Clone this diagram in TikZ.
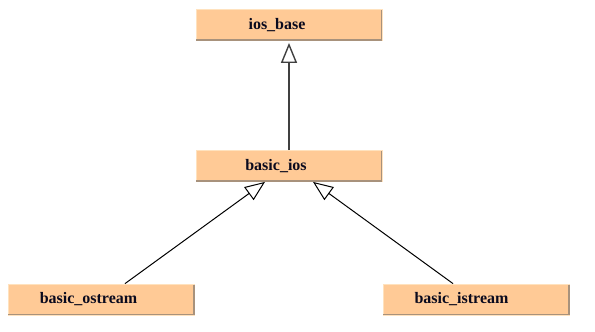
\documentclass[tikz,border=0pt]{standalone}
\usepackage{fontspec}
\setmainfont{Liberation Serif}
\usetikzlibrary{arrows.meta,calc}
\definecolor{boxfill}{HTML}{FFCA96}
\definecolor{boxlight}{HTML}{FFE2BE}
\definecolor{boxshade}{HTML}{A8927C}
\definecolor{labeltext}{HTML}{0A0A1E}
\definecolor{stem}{HTML}{404040}
\tikzset{
  cls/.style={rectangle, fill=boxfill, draw=boxlight, line width=0.8pt,
    minimum width=186pt, minimum height=31pt, inner sep=0pt,
    font=\bfseries\fontsize{16}{16}\selectfont, text=labeltext},
  shade edge/.style={draw=boxshade, line width=1.6pt},
  inherit/.style={draw=black, line width=1pt,
    -{Triangle[open, length=20pt, width=16pt, fill=white]}},
}
\begin{document}
\begin{tikzpicture}[x=1pt, y=-1pt]
  \useasboundingbox (0,0) rectangle (595,332);
  % class boxes
  \node[cls] (iosbase) at (289,25)    {\hspace*{-24pt}ios\_base};
  \node[cls] (basicios) at (289,166)  {\hspace*{-26pt}basic\_ios};
  \node[cls] (ostream) at (101.5,299.5) {\hspace*{-26pt}basic\_ostream};
  \node[cls] (istream) at (476.5,299.5) {\hspace*{-30pt}basic\_istream};
  % darker right and bottom edges
  \foreach \n in {iosbase,basicios,ostream,istream}{
    \draw[shade edge] ($(\n.north east)+(-0.8,1)$) -- ($(\n.south east)+(-0.8,-0.8)$) -- ($(\n.south west)+(0,-0.8)$);
  }
  % inheritance arrows
  \draw[inherit, draw=stem, line width=1.4pt] (basicios.north) -- ($(iosbase.south)+(0,2)$);
  \draw[inherit] ($(ostream.north)+(23.5,0)$) -- ($(basicios.south)+(-24,0)$);
  \draw[inherit] ($(istream.north)+(-23.5,0)$) -- ($(basicios.south)+(24,0)$);
\end{tikzpicture}
\end{document}
